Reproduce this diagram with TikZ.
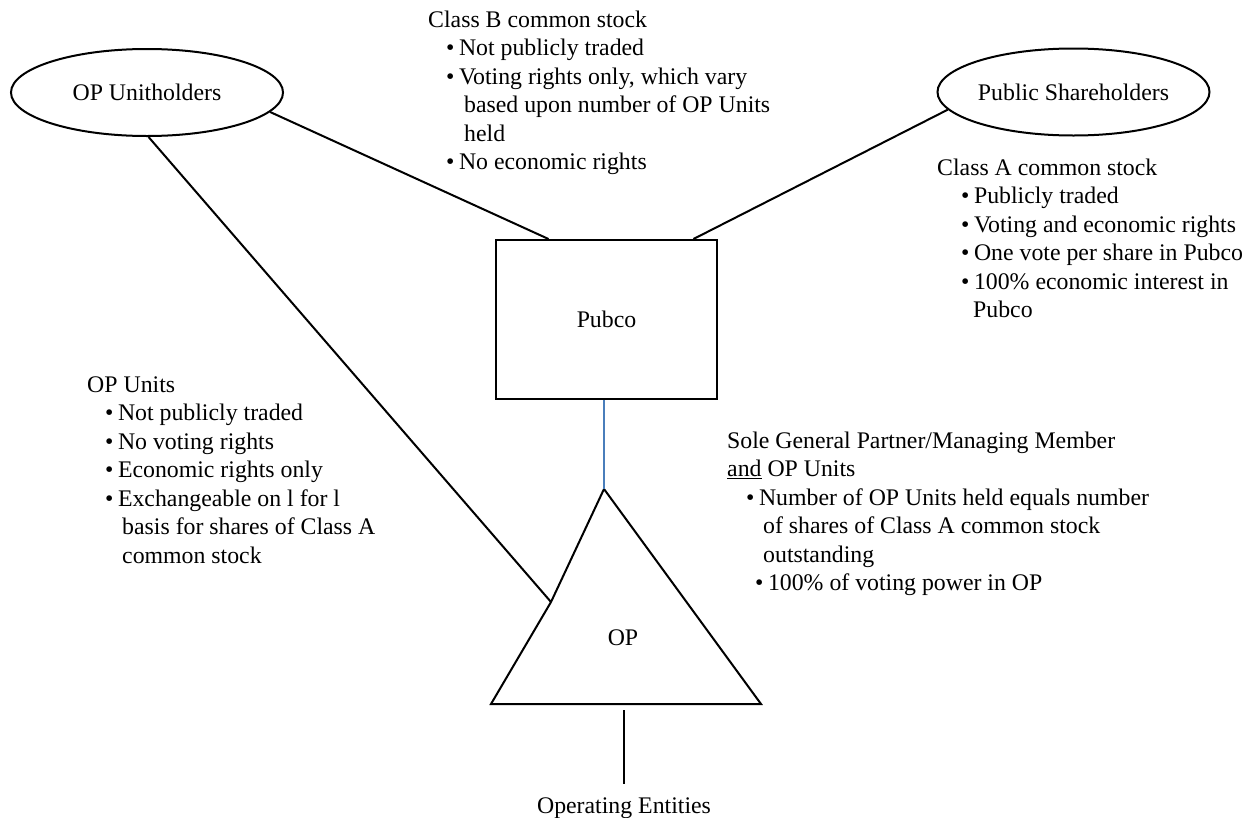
\documentclass[tikz,border=0pt]{standalone}
\usepackage{fontspec}
\setmainfont{Liberation Serif}
\usetikzlibrary{shapes.geometric,calc}
\definecolor{linkblue}{RGB}{74,126,187}
\newcommand{\bitem}[1]{\hspace*{#1}\textbullet\hspace{4.5pt}}
\newcommand{\bcont}[1]{\hspace*{#1}}
\tikzset{
  holder/.style={draw,ellipse,line width=2pt,minimum width=272pt,minimum height=87pt,inner sep=0pt},
  entity/.style={draw,rectangle,line width=2pt,minimum width=221pt,minimum height=159pt},
  notes/.style={align=left,inner sep=0pt,anchor=north west},
  link/.style={line width=2pt}
}
\begin{document}
\begin{tikzpicture}[x=1pt,y=-1pt,font=\fontsize{23.8}{28.5}\selectfont]
  \useasboundingbox (0,0) rectangle (1248,817);
  \begin{scope}
    \node[holder] (opu) at (147,92.5) {OP Unitholders};
    \node[holder] (pubsh) at (1073.5,92) {Public Shareholders};
    \node[entity] (pubco) at (606.5,319.5) {Pubco};
    \coordinate (optop) at (604,489);
    \coordinate (opkink) at (551,602);
    \coordinate (opleft) at (491,704);
    \coordinate (opright) at (761,704);
    \coordinate (opfoot) at (624,710);
    \draw[link] (optop) -- (opkink) -- (opleft) -- (opright) -- cycle;
    \node (op) at (623,638) {OP};
    \node[inner sep=0pt,anchor=base] (ents) at (624,813) {Operating Entities};
  \end{scope}
  \draw[link] (opu.-9) -- ($(pubco.north west)!0.24!(pubco.north east)$);
  \draw[link] (pubsh.188) -- ($(pubco.north west)!0.89!(pubco.north east)$);
  \draw[link] (opu.-88) -- (opkink);
  \draw[link,linkblue] (optop |- pubco.south) -- (optop);
  \draw[link] (opfoot) -- ([yshift=13pt]ents.north);
  \node[notes] (clsb) at (428,10.7) {Class B common stock\\
    \bitem{18pt}Not publicly traded\\
    \bitem{18pt}Voting rights only, which vary\\
    \bcont{36pt}based upon number of OP Units\\
    \bcont{36pt}held\\
    \bitem{18pt}No economic rights};
  \node[notes] (clsa) at (937,158.7) {Class A common stock\\
    \bitem{24pt}Publicly traded\\
    \bitem{24pt}Voting and economic rights\\
    \bitem{24pt}One vote per share in Pubco\\
    \bitem{24pt}100\% economic interest in\\
    \bcont{36pt}Pubco};
  \node[notes] (units) at (87,376.5) {OP Units\\
    \bitem{18pt}Not publicly traded\\
    \bitem{18pt}No voting rights\\
    \bitem{18pt}Economic rights only\\
    \bitem{18pt}Exchangeable on l for l\\
    \bcont{35pt}basis for shares of Class A\\
    \bcont{35pt}common stock};
  \node[notes] (gp) at (727,431.7) {Sole General Partner/Managing Member\\
    \underline{and} OP Units\\
    \bitem{19pt}Number of OP Units held equals number\\
    \bcont{36pt}of shares of Class A common stock\\
    \bcont{36pt}outstanding\\
    \bitem{28pt}100\% of voting power in OP};
\end{tikzpicture}
\end{document}
